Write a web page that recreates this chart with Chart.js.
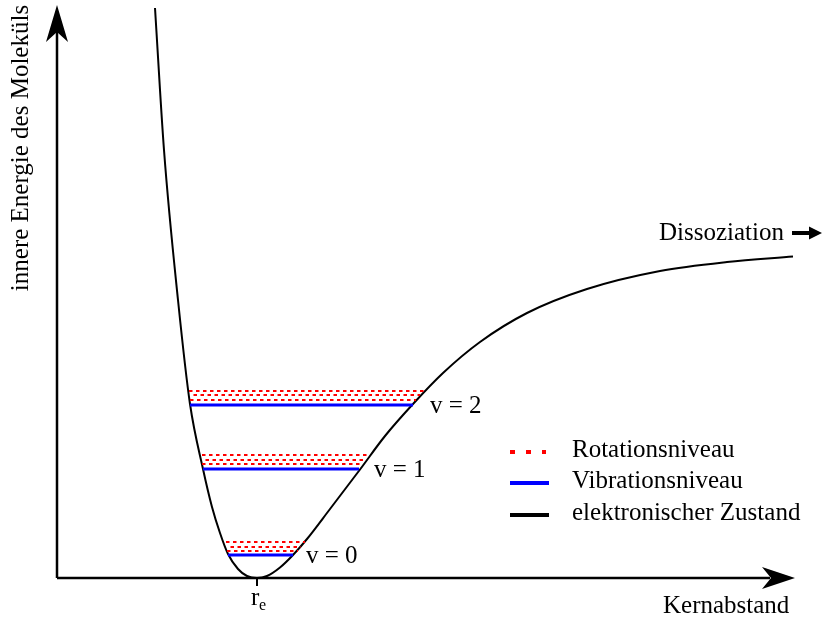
<!DOCTYPE html>
<html>
<head>
<meta charset="utf-8">
<script src="https://cdn.jsdelivr.net/npm/chart.js@4.4.1/dist/chart.umd.min.js"></script>
<style>
  html, body { margin: 0; padding: 0; background: #fff; }
  #wrap { width: 822px; height: 619px; }
</style>
</head>
<body>
<div id="wrap"><canvas id="morse" width="822" height="619"></canvas></div>
<script>
// Potentialkurve (Kernabstand r, innere Energie E)
const potentialR = [98, 107, 121, 133, 146, 155, 163, 171, 181, 190, 200, 210, 223, 236, 250, 273, 303, 328, 356, 386, 423, 470, 530, 603, 670, 736];
const potentialE = [570, 428, 278, 174, 109, 71, 45, 24, 9, 2, 0, 2, 10.5, 23, 39, 69, 108.5, 142, 174, 205, 236, 265, 289, 307, 316, 321.5];

// Schwingungsniveaus
const vibLabels = ['v = 0', 'v = 1', 'v = 2'];
const vibE = [23, 109, 173];
const vibLeft = [171, 146, 133];
const vibRight = [236, 302, 356];

// Rotationsniveaus je Schwingungsniveau
const rotE = [[27, 31, 36], [114, 118, 123], [178, 183, 187]];
const rotLeft = [[170, 170, 169], [145, 145, 145], [133, 133, 132]];
const rotRight = [[241, 244, 248], [304, 307, 311], [359, 363, 368]];

const rEq = 200;          // Gleichgewichtsabstand r_e
const axisEndR = 738;
const axisEndE = 573;

const legendItems = ['Rotationsniveau', 'Vibrationsniveau', 'elektronischer Zustand'];

const FONT = '25px "Liberation Serif", "Times New Roman", serif';

const datasets = [];

rotE.forEach((rows, i) => {
  rows.forEach((e, j) => {
    datasets.push({
      data: [{ x: rotLeft[i][j], y: e }, { x: rotRight[i][j], y: e }],
      borderColor: '#ff0000',
      borderWidth: 2,
      borderDash: [3.5, 3.5],
      borderDashOffset: j % 2 ? 3.5 : 0,
      pointRadius: 0,
      showLine: true
    });
  });
});

vibE.forEach((e, i) => {
  datasets.push({
    data: [{ x: vibLeft[i], y: e }, { x: vibRight[i], y: e }],
    borderColor: '#0000ff',
    borderWidth: 3,
    pointRadius: 0,
    showLine: true
  });
});

datasets.push({
  data: potentialR.map((r, i) => ({ x: r, y: potentialE[i] })),
  borderColor: '#000',
  borderWidth: 2,
  pointRadius: 0,
  showLine: true,
  cubicInterpolationMode: 'monotone'
});

function arrowHead(ctx, tipX, tipY, dir) {
  // dir: 'up' oder 'right'
  ctx.beginPath();
  if (dir === 'up') {
    ctx.moveTo(tipX, tipY);
    ctx.lineTo(tipX + 11, tipY + 37);
    ctx.lineTo(tipX, tipY + 27);
    ctx.lineTo(tipX - 11, tipY + 37);
  } else {
    ctx.moveTo(tipX, tipY);
    ctx.lineTo(tipX - 33, tipY + 11);
    ctx.lineTo(tipX - 24, tipY);
    ctx.lineTo(tipX - 33, tipY - 11);
  }
  ctx.closePath();
  ctx.fill();
}

const diagramPlugin = {
  id: 'diagram',
  beforeDatasetsDraw(chart) {
    const ctx = chart.ctx;
    const xs = chart.scales.x, ys = chart.scales.y;
    const x0 = xs.getPixelForValue(0), y0 = ys.getPixelForValue(0);
    const xEnd = xs.getPixelForValue(axisEndR), yEnd = ys.getPixelForValue(axisEndE);
    ctx.save();
    ctx.strokeStyle = '#000';
    ctx.fillStyle = '#000';
    ctx.lineWidth = 2.5;
    ctx.beginPath();
    ctx.moveTo(x0, y0);
    ctx.lineTo(x0, yEnd + 25);
    ctx.moveTo(x0, y0);
    ctx.lineTo(xEnd - 25, y0);
    ctx.stroke();
    arrowHead(ctx, x0, yEnd, 'up');
    arrowHead(ctx, xEnd, y0, 'right');

    // r_e Markierung
    const xe = xs.getPixelForValue(rEq);
    ctx.lineWidth = 2;
    ctx.beginPath();
    ctx.moveTo(xe, y0);
    ctx.lineTo(xe, y0 + 8);
    ctx.stroke();
    ctx.restore();
  },
  afterDraw(chart) {
    const ctx = chart.ctx;
    const xs = chart.scales.x, ys = chart.scales.y;
    ctx.save();
    ctx.fillStyle = '#000';
    ctx.font = FONT;
    ctx.textBaseline = 'alphabetic';

    // Beschriftung der Schwingungsniveaus
    vibLabels.forEach((t, i) => {
      ctx.fillText(t, xs.getPixelForValue(vibRight[i]) + 13 + 2 * i, ys.getPixelForValue(vibE[i]) + 8);
    });

    // Achsenbeschriftungen
    ctx.fillText('Kernabstand', 663, 613);
    ctx.fillText('Dissoziation', 659, 240);
    ctx.save();
    ctx.translate(28, 148);
    ctx.rotate(-Math.PI / 2);
    ctx.textAlign = 'center';
    ctx.fillText('innere Energie des Moleküls', 0, 0);
    ctx.restore();

    // r_e
    const xe = xs.getPixelForValue(rEq);
    ctx.fillText('r', xe - 6, 605);
    ctx.font = '16px "Liberation Serif", "Times New Roman", serif';
    ctx.fillText('e', xe + 2, 610);

    // Pfeil hinter "Dissoziation"
    ctx.lineWidth = 4;
    ctx.beginPath();
    ctx.moveTo(792, 233);
    ctx.lineTo(812, 233);
    ctx.stroke();
    ctx.beginPath();
    ctx.moveTo(822, 233);
    ctx.lineTo(809, 226.5);
    ctx.lineTo(809, 239.5);
    ctx.closePath();
    ctx.fill();

    // Legende
    const lx = 510, lw = 39, tx = 572;
    const rowY = [452, 483, 515];
    ctx.font = FONT;
    legendItems.forEach((t, i) => ctx.fillText(t, tx, rowY[i] + 5));
    ctx.lineWidth = 4;
    ctx.strokeStyle = '#ff0000';
    ctx.setLineDash([5, 11]);
    ctx.beginPath();
    ctx.moveTo(lx, rowY[0]);
    ctx.lineTo(lx + 36, rowY[0]);
    ctx.stroke();
    ctx.setLineDash([]);
    ctx.strokeStyle = '#0000ff';
    ctx.beginPath();
    ctx.moveTo(lx, rowY[1]);
    ctx.lineTo(lx + lw, rowY[1]);
    ctx.stroke();
    ctx.strokeStyle = '#000';
    ctx.beginPath();
    ctx.moveTo(lx, rowY[2]);
    ctx.lineTo(lx + lw, rowY[2]);
    ctx.stroke();
    ctx.restore();
  }
};

new Chart(document.getElementById('morse').getContext('2d'), {
  type: 'scatter',
  data: { datasets },
  options: {
    responsive: false,
    animation: false,
    devicePixelRatio: 1,
    layout: { padding: 0 },
    plugins: { legend: { display: false }, tooltip: { enabled: false } },
    scales: {
      x: { type: 'linear', min: -57, max: 765, display: false },
      y: { type: 'linear', min: -41, max: 578, display: false }
    }
  },
  plugins: [diagramPlugin]
});
</script>
</body>
</html>
